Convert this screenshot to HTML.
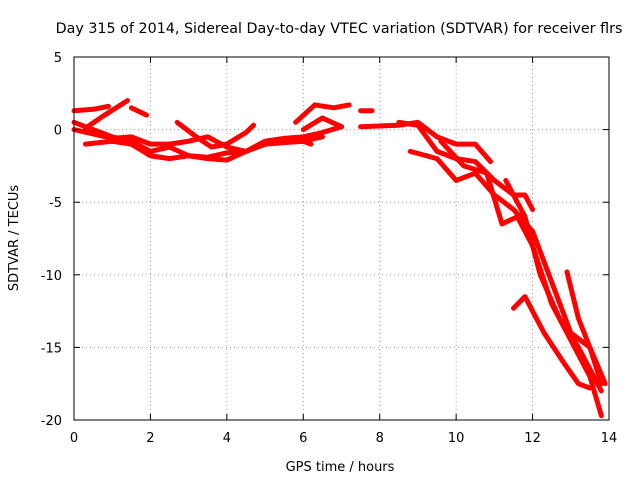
<!DOCTYPE html>
<html><head><meta charset="utf-8"><style>
body{margin:0;background:#fff}
svg{display:block;font-family:"DejaVu Sans","Liberation Sans",sans-serif}
</style></head><body>
<svg id="chart" width="640" height="480">
<text x="339" y="33" font-size="14.3" text-anchor="middle">Day 315 of 2014, Sidereal Day-to-day VTEC variation (SDTVAR) for receiver flrs</text>
<text x="340" y="471" font-size="13" text-anchor="middle">GPS time / hours</text>
<text transform="translate(18,238) rotate(-90)" font-size="13" text-anchor="middle">SDTVAR / TECUs</text>
<g id="grid"></g><g id="series"></g><g id="ticks"></g>
<rect x="74" y="57" width="535" height="363" fill="none" stroke="#000" stroke-width="1"/>
</svg>
<script>
const xTicks=[0,2,4,6,8,10,12,14];
const yTicks=[5,0,-5,-10,-15,-20];
const trackA=[[0,1.3],[0.5,1.4],[0.9,1.6]];
const trackB=[[0.3,0.1],[0.8,1.0],[1.4,2.0]];
const trackC=[[1.5,1.5],[1.9,1.0]];
const trackD=[[0,0.5],[0.5,0],[1,-0.5],[1.5,-0.8],[2,-1.5],[2.5,-1.2],[3,-1.8],[3.5,-1.9],[4,-1.6],[4.5,-1.5],[5,-0.8],[5.5,-0.6],[6,-0.5],[6.5,-0.2],[7,0.2]];
const trackE=[[0,0],[0.5,-0.3],[1,-0.6],[1.5,-0.5],[2,-1.0],[2.5,-1.0],[3,-0.8],[3.5,-0.5],[4,-1.2],[4.5,-1.5],[5,-1.0],[5.5,-0.7],[6,-0.8],[6.5,-0.5]];
const trackF=[[0.3,-1.0],[1,-0.8],[1.5,-1.0],[2,-1.8],[2.5,-2],[3,-1.8],[3.5,-2.0],[4,-2.1],[4.5,-1.5],[5,-1.0],[5.5,-0.9],[6,-0.8],[6.2,-1.0]];
const trackG=[[2.7,0.5],[3.2,-0.5],[3.6,-1.2],[4,-1.0],[4.5,-0.2],[4.7,0.3]];
const trackH=[[5.8,0.5],[6.3,1.7],[6.8,1.5],[7.2,1.7]];
const trackI=[[6,0],[6.5,0.8],[7,0.2]];
const trackJ=[[7.5,1.3],[7.8,1.3]];
const trackK=[[7.5,0.2],[8.5,0.3],[9,0.5],[9.5,-0.5],[10,-1.0],[10.5,-1.0],[10.9,-2.2]];
const trackL=[[8.5,0.5],[9,0.3],[9.5,-1.5],[10,-2.0],[10.5,-2.2],[11,-3.5],[11.5,-4.5],[11.8,-4.5],[12,-5.5]];
const trackM=[[8.8,-1.5],[9.5,-2.0],[10,-3.5],[10.5,-3],[11,-4.5],[11.5,-5.5],[12,-7],[12.5,-10.5],[13,-14],[13.5,-15],[13.8,-17.5]];
const trackN=[[9.6,-0.8],[10.2,-2.5],[10.8,-3],[11.2,-6.5],[11.6,-6],[12,-8],[12.5,-12],[13,-14.5],[13.5,-17],[13.8,-19.7]];
const trackO=[[11.3,-3.5],[11.8,-6],[12.2,-10],[12.7,-13],[13.2,-15],[13.8,-18]];
const trackP=[[11.5,-12.3],[11.8,-11.5],[12.3,-14],[12.8,-16],[13.2,-17.5],[13.5,-17.8]];
const trackQ=[[12.9,-9.8],[13.2,-13],[13.5,-15],[13.9,-17.5]];
const tracks=[trackA,trackB,trackC,trackD,trackE,trackF,trackG,trackH,trackI,trackJ,trackK,trackL,trackM,trackN,trackO,trackP,trackQ];
const NS='http://www.w3.org/2000/svg';
const X0=74,X1=609,Y0=420,Y1=57,XMIN=0,XMAX=14,YMIN=-20,YMAX=5;
function sx(v){return X0+(v-XMIN)/(XMAX-XMIN)*(X1-X0);}
function sy(v){return Y0-(v-YMIN)/(YMAX-YMIN)*(Y0-Y1);}
function mk(tag,attrs,parent){const e=document.createElementNS(NS,tag);for(const k in attrs)e.setAttribute(k,attrs[k]);parent.appendChild(e);return e;}
const grid=document.getElementById('grid'),ticks=document.getElementById('ticks'),series=document.getElementById('series');
xTicks.forEach(t=>{
  const x=sx(t);
  if(t>XMIN&&t<XMAX){const g=mk('line',{x1:x,x2:x,y1:Y1,y2:Y0,stroke:'#999','stroke-dasharray':'1,3'},grid);
  
  }
  mk('line',{x1:x,x2:x,y1:Y0,y2:Y0-6,stroke:'#000'},ticks);
  mk('line',{x1:x,x2:x,y1:Y1,y2:Y1+6,stroke:'#000'},ticks);
  const l=mk('text',{x:x,y:Y0+22,'font-size':13,'text-anchor':'middle'},ticks);l.textContent=t;
  
  
});
yTicks.forEach(t=>{
  const y=sy(t);
  if(t>YMIN&&t<YMAX){const g=mk('line',{x1:X0,x2:X1,y1:y,y2:y,stroke:'#999','stroke-dasharray':'1,3'},grid);
  
  }
  mk('line',{x1:X0,x2:X0+6,y1:y,y2:y,stroke:'#000'},ticks);
  mk('line',{x1:X1,x2:X1-6,y1:y,y2:y,stroke:'#000'},ticks);
  const l=mk('text',{x:X0-12,y:y+5,'font-size':13,'text-anchor':'end'},ticks);l.textContent=t;
  
  
});
tracks.forEach(tr=>{
  const p=mk('polyline',{points:tr.map(d=>sx(d[0])+','+sy(d[1])).join(' '),fill:'none',stroke:'#f00','stroke-width':5,'stroke-linejoin':'round','stroke-linecap':'round'},series);
  
  
});
</script>
</body></html>
